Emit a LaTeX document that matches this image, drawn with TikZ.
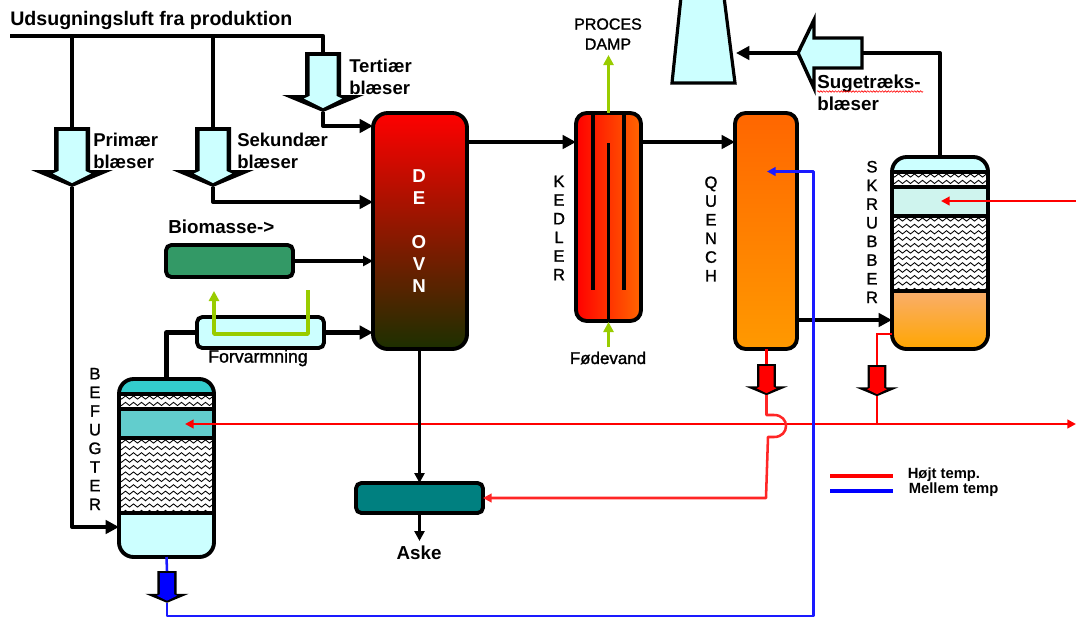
\documentclass[tikz,border=0pt]{standalone}
\usepackage{fontspec}
\setmainfont{Liberation Sans}
\newfontfamily\semib[FakeBold=1.3]{Liberation Sans}
\usetikzlibrary{arrows.meta,decorations.pathmorphing}
\definecolor{lcyan}{HTML}{CCFFFF}
\definecolor{ogreen}{HTML}{339966}
\definecolor{lime}{HTML}{99CC00}
\definecolor{dteal}{HTML}{008080}
\definecolor{capteal}{HTML}{33CCCC}
\definecolor{midteal}{HTML}{62CDCD}
\definecolor{palemint}{HTML}{CFF4EE}
\definecolor{peach}{HTML}{F9AE6C}
\definecolor{lineblue}{HTML}{1A1AFF}
\tikzset{
  vessel/.style={draw=black,line width=2.9pt,inner sep=0pt,outer sep=0pt,rounded corners=#1},
  vessel/.default=8pt,
  pipe/.style={draw=black,line width=3pt,line join=round},
  tipbig/.style={-{Triangle[length=10pt,width=10pt]}},
  tipmid/.style={-{Triangle[length=7.5pt,width=7.5pt]}},
  tipsmall/.style={-{Triangle[length=6.5pt,width=6.5pt]}},
  hot/.style={draw=red,line width=1.9pt},
  mid/.style={draw=lineblue,line width=1.9pt},
  steam/.style={draw=lime,line width=2.6pt},
  blab/.style={font=\bfseries\fontsize{13.9}{16.5}\selectfont,inner sep=0pt,align=left,anchor=west},
  rlab/.style={font=\semib\fontsize{12.7}{14}\selectfont,inner sep=0pt,align=center},
  vlab/.style={font=\semib\fontsize{12.4}{14}\selectfont,inner sep=0pt,align=center},
  leg/.style={font=\bfseries\fontsize{11.1}{12}\selectfont,inner sep=0pt,anchor=west},
}
\newcommand{\boxnode}[6]{%
  \node[minimum width={(#4-#2)*0.75pt},minimum height={(#5-#3)*0.75pt},#6] (#1) at ({(#2+#4)/2},{(#3+#5)/2}) {};}
\newcommand{\waveband}[5]{% x1 y1 x2 y2 lastrow
  \fill[white] (#1,#2) rectangle (#3,#4);
  \begin{scope}
    \clip (#1,#2) rectangle (#3,#4);
    \foreach \rw in {0,...,#5}
      \draw[line width=0.65pt,decorate,decoration={snake,segment length=6pt,amplitude=1.2pt}]
        ({#1-4},{#2+3.5+6.4*\rw}) -- ({#3+4},{#2+3.5+6.4*\rw});
  \end{scope}}
\newcommand{\blowerd}[5]{% name cx top scale fill
  \begin{scope}[shift={(#2,#3)},scale=#4]
    \coordinate (#1-top) at (0,0);
    \coordinate (#1-tip) at (0,60);
    \fill[black] (-18,0) -- (18,0) -- (18,43) -- (41,43) -- (0,60) -- (-41,43) -- (-18,43) -- cycle;
    \fill[#5] (-13.5,4) -- (13.5,4) -- (13.5,44) -- (19,46.5) -- (0,56) -- (-19,46.5) -- (-13.5,44) -- cycle;
  \end{scope}}
\begin{document}
\begin{tikzpicture}[x=0.75pt,y=-0.75pt]
\useasboundingbox (0,0) rectangle (1076,619);
\fill[white] (0,0) rectangle (1076,619);

% stack
\draw[fill=lcyan,line width=2.4pt,line join=miter] (681,-3) -- (724,-3) -- (735,83) -- (672,83) -- cycle;

% blowers
\blowerd{bt}{323}{52}{1}{lcyan}
\blowerd{bp}{72}{127}{1}{lcyan}
\blowerd{bs}{213}{127}{1}{lcyan}
\blowerd{rq}{766.5}{364}{0.52}{red}
\blowerd{rs}{877}{365}{0.52}{red}
\blowerd{bb}{167}{571}{0.53}{blue}

% suction blower
\draw[fill=lcyan,line width=2.6pt,line join=miter,miter limit=20] (862,38) -- (814,38) -- (814,20) -- (798,53) -- (814,88) -- (814,68) -- (862,68) -- cycle;
\coordinate (sug-in) at (862,53);
\coordinate (sug-out) at (798,53);

% befugter bands
\begin{scope}
  \clip[rounded corners=11pt] (119,379) rectangle (214,557);
  \fill[capteal] (119,379) rectangle (214,395);
  \fill[midteal] (119,409) rectangle (214,438);
  \fill[lcyan] (119,512) rectangle (214,557);
\end{scope}
\waveband{119}{394}{214}{410}{2}
\waveband{119}{438}{214}{513}{11}
\foreach \ly in {394,409,438,513} \draw[line width=2.6pt] (119,\ly) -- (214,\ly);
\boxnode{bef}{119}{379}{214}{557}{vessel=11pt}

% scrubber bands
\begin{scope}
  \clip[rounded corners=11pt] (892,157) rectangle (988,349);
  \fill[lcyan] (892,157) rectangle (988,173);
  \fill[palemint] (892,187) rectangle (988,216);
  \shade[top color=peach,bottom color=orange!70!yellow] (892,291) rectangle (988,349);
\end{scope}
\waveband{892}{172}{988}{188}{2}
\waveband{892}{216}{988}{291}{11}
\foreach \ly in {172,187,216,291} \draw[line width=2.6pt] (892,\ly) -- (988,\ly);
\boxnode{skr}{892}{157}{988}{349}{vessel=11pt}

% simple vessels
\boxnode{ovn}{373}{113}{467}{349}{vessel=11pt,top color=red,middle color={rgb,255:red,172;green,28;blue,0},bottom color={rgb,255:red,28;green,48;blue,0}}
\boxnode{ked}{576}{113}{641}{321}{vessel=8pt,left color=red,middle color={rgb,255:red,255;green,85;blue,0},right color={rgb,255:red,255;green,102;blue,0}}
\draw[line width=2.3pt] (593,113) -- (593,290);
\draw[line width=2.3pt] (624,113) -- (624,290);
\draw[line width=2.3pt] (608.5,143) -- (608.5,321);
\boxnode{que}{735}{113}{797}{349}{vessel=8pt,top color={rgb,255:red,255;green,102;blue,0},bottom color={rgb,255:red,255;green,153;blue,0}}
\boxnode{bio}{166}{245}{293}{277}{vessel=4pt,fill=ogreen}
\boxnode{forv}{197}{317}{324}{348}{vessel=4pt,fill=lcyan}
\boxnode{ask}{356}{483}{483}{513}{vessel=4pt,fill=dteal}

% steam loop
\coordinate (loop-in) at (308,290);
\coordinate (loop-out) at (214,291);
\draw[steam,tipmid,line join=round] (loop-in) |- (260,334) -| (loop-out);

% hot water
\coordinate (redin) at (1076,201);
\coordinate (redeast) at (1076,424);
\coordinate (redwest) at (185,424);
\coordinate (redj) at (877,424);
\draw[hot,tipsmall] (redj) -- (redeast);
\draw[hot,tipsmall] (redj) -- (redwest);
\draw[hot,tipsmall] (redin) -- (941,201);
\draw[hot] (rs-tip) -- (redj);
\draw[hot] (892,334) -| (rs-top);
\draw[hot] (que.south -| rq-top) -- (rq-top);
\draw[hot,draw=red!85!white,tipsmall,line join=round] (rq-tip) -- (766.5,415) -- (774,415) .. controls (790,415) and (790,437) .. (774,437) -- (768,437) -- (766,498) -- (ask.east |- 0,498);

% air and gas pipes
\coordinate (airstart) at (10,36);
\draw[pipe,line width=3.4pt,line cap=butt] (airstart) -| (bt-top);
\draw[pipe] (72,36) -- (bp-top);
\draw[pipe] (213,36) -- (bs-top);
\draw[pipe,tipbig] (bt-tip) |- (ovn.west |- 0,126);
\draw[pipe,tipbig] (bs-tip) |- (ovn.west |- 0,202);
\draw[pipe,tipbig] (bp-tip) |- (bef.west |- 0,527);
\draw[pipe,line width=2.6pt,tipmid] (bio.east) -- (ovn.west |- bio.east);
\draw[pipe,line width=3.2pt] (bef.north) |- (forv.west);
\draw[pipe,line width=3.6pt,tipbig] (forv.east) -- (ovn.west |- forv.east);
\draw[pipe,line width=2.9pt,tipmid] (ovn.south -| ask.north) -- (ask.north);
\draw[pipe,line width=2.9pt,tipmid] (ask.south) -- (419.5,541);
\draw[pipe,tipbig] (ovn.east |- 0,142) -- (ked.west |- 0,142);
\draw[pipe,tipbig] (ked.east |- 0,142) -- (que.west |- 0,142);
\draw[pipe,line width=3.6pt,tipbig] (que.east |- 0,320) -- (skr.west |- 0,320);
\draw[pipe] (skr.north) |- (sug-in);
\draw[pipe,tipbig] (sug-out) -- (736,53);

% steam connectors
\draw[steam,tipmid] (608.5,113) -- (608.5,55);
\draw[steam,tipmid] (608.5,347) -- (608.5,322);

% medium temp
\draw[mid] (bef.south) -- (bb-top);
\draw[mid,tipsmall,line join=round] (bb-tip) -- (167,616) -- (813.5,616) -- (813.5,171.5) -- (767,171.5);

% labels
\node[blab,font=\bfseries\fontsize{14.7}{17}\selectfont] (t0) at (10,20) {Udsugningsluft fra produktion};
\node[blab] (t1) at (93,151) {Primær\\blæser};
\node[blab] (t2) at (237,151) {Sekundær\\blæser};
\node[blab] (t3) at (349,77) {Tertiær\\blæser};
\node[blab,font=\bfseries\fontsize{14.1}{16.5}\selectfont] (t4) at (168,227) {Biomasse->};
\node[blab,font=\bfseries\fontsize{14.1}{16.5}\selectfont] (t5) at (817,93) {Sugetræks-\\blæser};
\draw[red,line width=0.45pt,decorate,decoration={snake,segment length=2.2pt,amplitude=0.6pt}] (817,91.5) -- (923,91.5);
\node[blab,anchor=center,font=\bfseries\fontsize{14.1}{16.5}\selectfont] (t6) at (419,553) {Aske};
\node[rlab,font=\semib\fontsize{13.3}{14}\selectfont] (t7) at (258,358) {Forvarmning};
\node[rlab] (t8) at (608,358) {Fødevand};
\node[rlab,font=\semib\fontsize{12}{15}\selectfont] (t9) at (608,34) {PROCES\\DAMP};
\node[vlab] (v1) at (95,439) {B\\E\\F\\U\\G\\T\\E\\R};
\node[vlab] (v2) at (559,228) {K\\E\\D\\L\\E\\R};
\node[vlab] (v3) at (711,229) {Q\\U\\E\\N\\C\\H};
\node[vlab] (v4) at (872,232) {S\\K\\R\\U\\B\\B\\E\\R};
\node[inner sep=0pt,align=center,text=white,font=\bfseries\fontsize{14}{16.5}\selectfont] (v5) at (419,231) {D\\E\\[16.5pt]O\\V\\N};

% legend
\coordinate (la) at (830,476);
\coordinate (lb) at (893,476);
\coordinate (lc) at (830,491);
\coordinate (ld) at (893,491);
\draw[red,line width=3.4pt] (la) -- (lb);
\draw[blue,line width=3.4pt] (lc) -- (ld);
\node[leg] (l1) at (907.5,475) {Højt temp.};
\node[leg] (l2) at (908.5,490) {Mellem temp};
\end{tikzpicture}
\end{document}
